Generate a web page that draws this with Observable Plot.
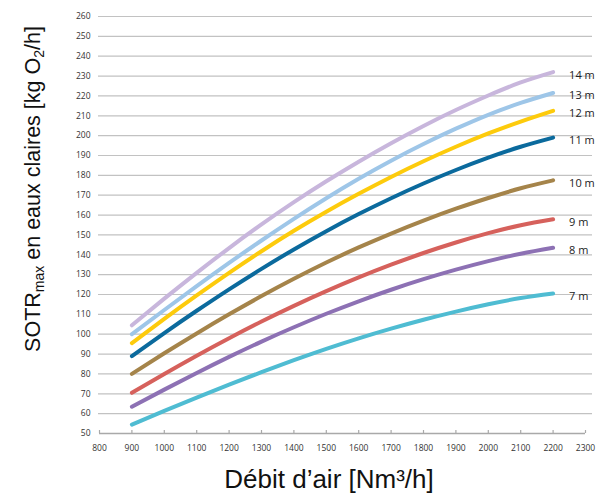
<!DOCTYPE html>
<html>
<head>
<meta charset="utf-8">
<script src="https://cdn.jsdelivr.net/npm/d3@7"></script>
<script src="https://cdn.jsdelivr.net/npm/@observablehq/plot@0.6"></script>
<style>
  body { margin: 0; background: #fff; }
  #chart svg { display: block; }
</style>
</head>
<body>
<div id="chart"></div>
<script>
// Débit d'air [Nm³/h]
const airflow = [900, 1000, 1100, 1200, 1300, 1400, 1500, 1600, 1700, 1800, 1900, 2000, 2100, 2200];

// SOTRmax [kg O2/h] per immersion depth
const sotr14 = [104.5, 117.9, 130.9, 143.4, 155.3, 166.5, 177, 186.9, 196.2, 204.9, 212.9, 220.2, 226.8, 232];
const sotr13 = [100, 112.2, 124.2, 135.9, 147.2, 158.1, 168.5, 178.3, 187.4, 195.8, 203.5, 210.5, 216.5, 221.5];
const sotr12 = [95.5, 107.7, 119.5, 130.9, 141.8, 152.1, 161.7, 170.7, 179.2, 187.1, 194.4, 201.1, 207.1, 212.5];
const sotr11 = [89, 100.6, 111.8, 122.6, 132.9, 142.7, 151.9, 160.5, 168.5, 175.9, 182.7, 188.9, 194.4, 199];
const sotr10 = [80, 90.4, 100.4, 110, 119.2, 127.9, 136.1, 143.7, 150.7, 157.2, 163.2, 168.6, 173.5, 177.5];
const sotr9  = [70.5, 80, 89.2, 98, 106.4, 114.3, 121.7, 128.6, 135, 140.9, 146.2, 150.9, 154.9, 157.9];
const sotr8  = [63.5, 72.1, 80.5, 88.6, 96.3, 103.5, 110.3, 116.6, 122.4, 127.7, 132.5, 136.8, 140.5, 143.5];
const sotr7  = [54.5, 61.4, 68.1, 74.6, 80.9, 86.9, 92.6, 97.9, 102.8, 107.3, 111.4, 115.1, 118.2, 120.5];

const depths = ["14 m", "13 m", "12 m", "11 m", "10 m", "9 m", "8 m", "7 m"];
const seriesValues = [sotr14, sotr13, sotr12, sotr11, sotr10, sotr9, sotr8, sotr7];
const depthColors = ["#c8b6dc", "#9ec6e8", "#fdcb0c", "#0b6a9d", "#a5844a", "#d6615c", "#8d71b4", "#4fbcd2"];

const xTicks = [800, 900, 1000, 1100, 1200, 1300, 1400, 1500, 1600, 1700, 1800, 1900, 2000, 2100, 2200, 2300];
const yTicks = [50, 60, 70, 80, 90, 100, 110, 120, 130, 140, 150, 160, 170, 180, 190, 200, 210, 220, 230, 240, 250, 260];
const gridValues = yTicks.filter(v => v > 50);

const rows = [];
depths.forEach((d, i) => {
  seriesValues[i].forEach((v, j) => rows.push({air: airflow[j], sotr: v, depth: d}));
});
const lastPoints = depths.map((d, i) => ({air: airflow[airflow.length - 1], sotr: seriesValues[i][airflow.length - 1], depth: d}));

const chart = Plot.plot({
  width: 610,
  height: 498,
  marginLeft: 99,
  marginRight: 25,
  marginTop: 16,
  marginBottom: 65,
  style: {background: "#fff", overflow: "visible"},
  x: {domain: [800, 2300]},
  y: {domain: [50, 260]},
  color: {domain: depths, range: depthColors},
  marks: [
    Plot.ruleY(gridValues, {stroke: "#c2c2c2", strokeWidth: 1.2, insetLeft: -1, insetRight: -7}),
    Plot.ruleY([50], {stroke: "#a9a9a9", strokeWidth: 1.4}),
    Plot.ruleX(xTicks, {x: d => d, y1: 50, y2: 50, insetBottom: 3, stroke: "#a9a9a9", strokeWidth: 1.2}),
    Plot.axisY(yTicks, {tickSize: 0, tickPadding: 9, fontSize: 8.5, fontFamily: "Open Sans", fill: "#333", label: null, tickFormat: d => String(d)}),
    Plot.axisX(xTicks, {tickSize: 0, tickPadding: 11, fontSize: 8.5, fontFamily: "Open Sans", fill: "#333", label: null, tickFormat: d => String(d)}),
    Plot.line(rows, {x: "air", y: "sotr", z: "depth", stroke: "depth", strokeWidth: 4, curve: "natural", strokeLinecap: "round"}),
    Plot.text(lastPoints, {x: "air", y: "sotr", text: "depth", dx: 16, dy: 3, textAnchor: "start", fontSize: 11, fontFamily: "Open Sans", fill: "#222"})
  ]
});

const svg = d3.select(chart);
// Y axis title with subscripts
const yt = svg.append("text")
  .attr("transform", "translate(40,189) rotate(-90)")
  .attr("text-anchor", "middle")
  .attr("font-family", "Liberation Sans, Arial, sans-serif")
  .attr("font-size", 21.5)
  .attr("fill", "#111");
yt.append("tspan").text("SOTR");
yt.append("tspan").attr("font-size", 14).attr("dy", 4).text("max");
yt.append("tspan").attr("dy", -4).text(" en eaux claires [kg O");
yt.append("tspan").attr("font-size", 14).attr("dy", 4).text("2");
yt.append("tspan").attr("dy", -4).text("/h]");

// X axis title
svg.append("text")
  .attr("x", 329)
  .attr("y", 488)
  .attr("text-anchor", "middle")
  .attr("font-family", "Liberation Sans, Arial, sans-serif")
  .attr("font-size", 26)
  .attr("fill", "#111")
  .text("Débit d’air [Nm³/h]");

document.getElementById("chart").appendChild(chart);
</script>
</body>
</html>
